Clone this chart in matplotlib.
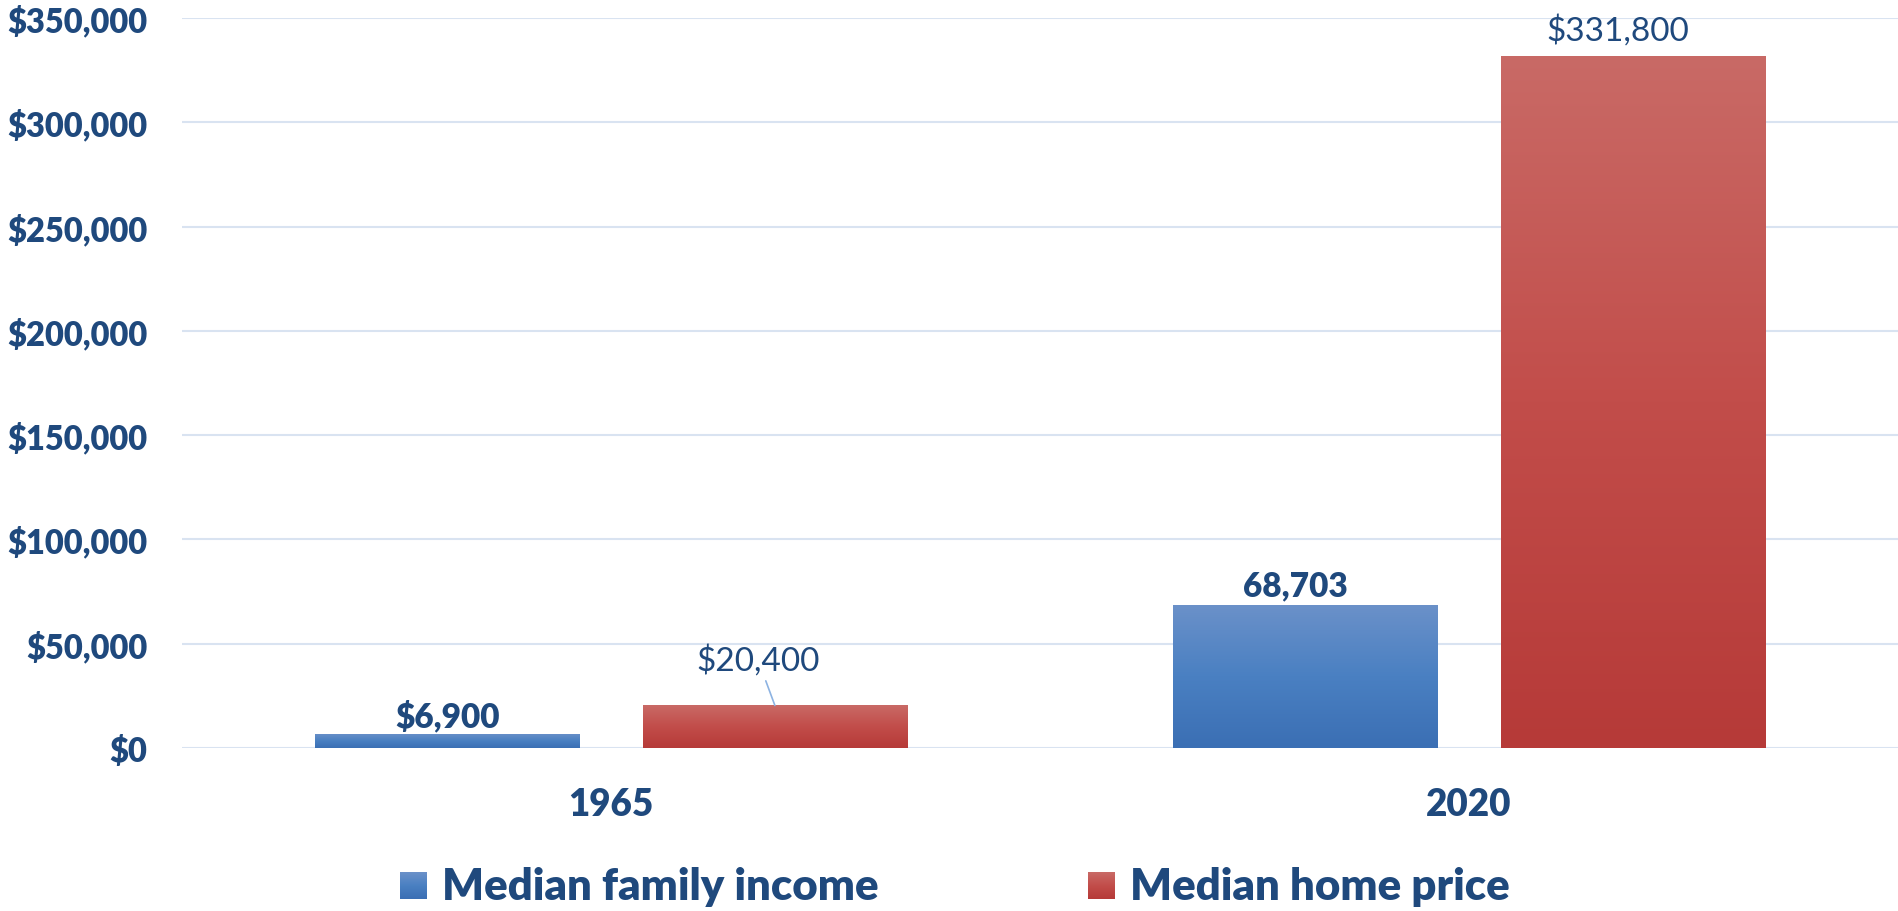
import matplotlib.pyplot as plt
import numpy as np
from matplotlib.colors import LinearSegmentedColormap

# chart data
years = ["1965", "2020"]
income = [6900, 68703]
home_price = [20400, 331800]
income_labels = ["$6,900", "68,703"]
price_labels = ["$20,400", "$331,800"]
yticks = [0, 50000, 100000, 150000, 200000, 250000, 300000, 350000]

TEXT = "#1f497d"
GRID = "#d9e3f1"
FONT = "Lato"
blue_cmap = LinearSegmentedColormap.from_list("b", ["#3b6fb4", "#4a80c2", "#6b91c9"])
red_cmap = LinearSegmentedColormap.from_list("r", ["#b63a38", "#c24d4a", "#c96a66"])

plt.rcParams['font.family'] = [FONT, 'DejaVu Sans']

fig = plt.figure(figsize=(18.98, 9.12), dpi=100)
ax = fig.add_axes([182 / 1898, 163 / 912, 1716 / 1898, 730 / 912])

x = np.arange(len(years))
w = 0.308
off = 0.191

def gradient_bars(bars, cmap):
    grad = np.linspace(0, 1, 256).reshape(-1, 1)
    for b in bars:
        x0, y0 = b.get_x(), b.get_y()
        img = ax.imshow(grad, cmap=cmap, origin="lower", aspect="auto",
                        extent=[x0, x0 + b.get_width(), y0, y0 + b.get_height()],
                        zorder=3)
        img.set_clip_path(b)

b1 = ax.bar(x - off, income, width=w, color="#4a80c2", zorder=2, linewidth=0)
b2 = ax.bar(x + off, home_price, width=w, color="#c24d4a", zorder=2, linewidth=0)
gradient_bars(b1, blue_cmap)
gradient_bars(b2, red_cmap)

ax.set_xlim(-0.5, 1.5)
ax.set_ylim(0, 350000)
ax.set_yticks(yticks)
ax.set_yticklabels([f"${v:,.0f}" for v in yticks])
ax.set_xticks(x)
ax.set_xticklabels(years)
ax.yaxis.grid(True, color=GRID, linewidth=1.5, zorder=0)
ax.set_axisbelow(True)
for s in ax.spines.values():
    s.set_visible(False)
ax.tick_params(axis="y", length=0, pad=25, labelsize=23.5, labelcolor=TEXT)
ax.tick_params(axis="x", length=0, pad=28, labelsize=26.5, labelcolor=TEXT)
for t in ax.get_xticklabels() + ax.get_yticklabels():
    t.set_fontweight("heavy")

# data labels (offsets in points, as positioned in the source chart)
px = 0.72
ax.annotate(income_labels[0], (x[0] - off, income[0]), xytext=(0, 7 * px),
            textcoords="offset points", ha="center", va="baseline",
            fontsize=24, fontweight="heavy", color=TEXT, zorder=5)
ax.annotate(income_labels[1], (x[1] - off, income[1]), xytext=(-10 * px, 9 * px),
            textcoords="offset points", ha="center", va="baseline",
            fontsize=24, fontweight="heavy", color=TEXT, zorder=5)
ax.annotate(price_labels[0], (x[0] + off, home_price[0]), xytext=(-17 * px, 36 * px),
            textcoords="offset points", ha="center", va="baseline",
            fontsize=24, color=TEXT, zorder=5,
            arrowprops=dict(arrowstyle="-", color="#8db3e2", lw=1.2,
                            shrinkA=2, shrinkB=0))
ax.annotate(price_labels[1], (x[1] + off, home_price[1]), xytext=(-15 * px, 16 * px),
            textcoords="offset points", ha="center", va="baseline",
            fontsize=24, color=TEXT, zorder=5)

# legend
grad = np.linspace(0, 1, 64).reshape(-1, 1)
for left, cmap, label in [(400, blue_cmap, "Median family income"),
                          (1088, red_cmap, "Median home price")]:
    lax = fig.add_axes([left / 1898, 12 / 912, 27 / 1898, 27 / 912])
    lax.imshow(grad, cmap=cmap, origin="lower", aspect="auto")
    lax.axis("off")
    fig.text((left + 42) / 1898, 12 / 912, label, ha="left", va="baseline",
             fontsize=31.5, fontweight="heavy", color=TEXT)

fig.savefig("out.png", dpi=100)
